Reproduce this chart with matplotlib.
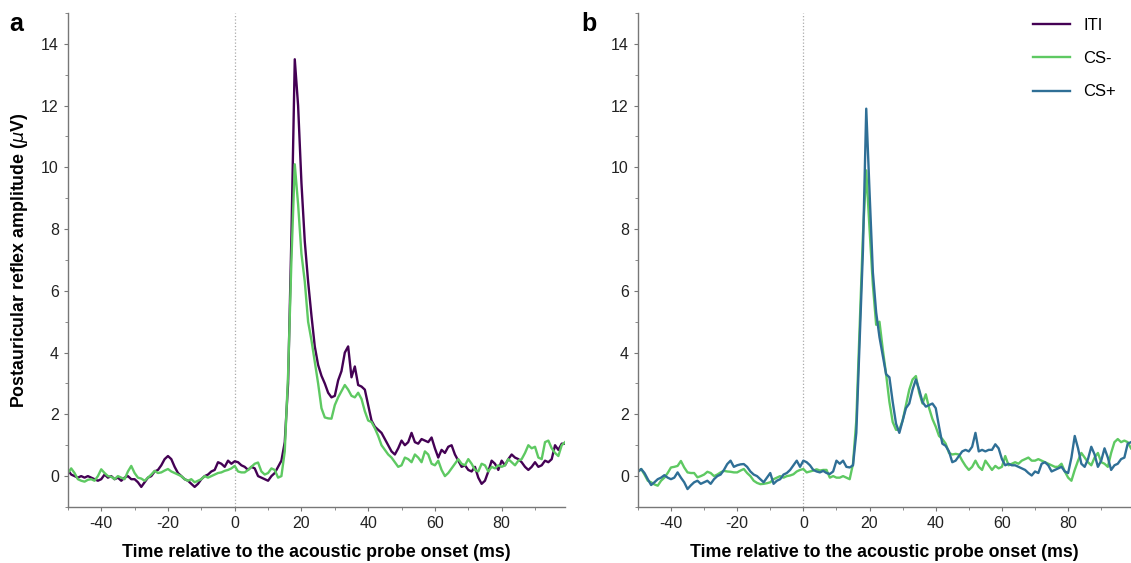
import numpy as np
import matplotlib
matplotlib.use('Agg')
import matplotlib.pyplot as plt
from matplotlib.ticker import MultipleLocator

plt.rcParams['font.family'] = ['Liberation Sans', 'DejaVu Sans']
plt.rcParams['axes.unicode_minus'] = False

# ==== time axis (ms), 1 ms steps
t = np.arange(-50, 100)

# ==== panel a
a_iti = [
    0.2, 0.05, 0.0, -0.05, 0.0, -0.05, 0.0, -0.05, -0.1, -0.15,
    -0.1, 0.05, -0.05, 0.0, -0.1, -0.05, -0.15, -0.05, 0.0, -0.1,
    -0.1, -0.2, -0.35, -0.2, -0.05, 0.0, 0.15, 0.2, 0.35, 0.55,
    0.65, 0.55, 0.3, 0.1, 0.0, -0.1, -0.15, -0.25, -0.35, -0.25,
    -0.1, 0.0, 0.05, 0.15, 0.2, 0.45, 0.4, 0.3, 0.5, 0.4,
    0.48, 0.45, 0.35, 0.3, 0.2, 0.3, 0.25, 0.0, -0.05, -0.1,
    -0.15, 0.0, 0.1, 0.3, 0.5, 1.1, 3.0, 7.8, 13.5, 12.0,
    9.5, 7.6, 6.3, 5.2, 4.2, 3.6, 3.25, 3.0, 2.7, 2.55,
    2.6, 3.1, 3.4, 4.0, 4.2, 3.2, 3.55, 2.95, 2.9, 2.8,
    2.3, 1.8, 1.6, 1.5, 1.4, 1.2, 1.0, 0.8, 0.7, 0.9,
    1.15, 1.0, 1.1, 1.4, 1.1, 1.05, 1.2, 1.15, 1.1, 1.25,
    0.9, 0.6, 0.85, 0.75, 0.95, 1.0, 0.7, 0.5, 0.3, 0.35,
    0.2, 0.15, 0.3, -0.05, -0.25, -0.15, 0.15, 0.5, 0.4, 0.2,
    0.5, 0.35, 0.55, 0.7, 0.6, 0.55, 0.45, 0.3, 0.2, 0.3,
    0.45, 0.3, 0.35, 0.5, 0.45, 0.55, 1.0, 0.85, 1.05, 1.05,
]
a_csm = [
    0.1, 0.25, 0.1, -0.1, -0.15, -0.18, -0.12, -0.1, -0.15, 0.0,
    0.22, 0.1, 0.0, -0.02, -0.1, 0.0, -0.05, -0.1, 0.15, 0.33,
    0.1, -0.05, -0.08, -0.15, -0.05, 0.05, 0.17, 0.1, 0.12, 0.18,
    0.23, 0.15, 0.1, 0.05, 0.0, -0.1, -0.15, -0.1, -0.2, -0.15,
    -0.1, 0.0, -0.05, 0.0, 0.05, 0.1, 0.12, 0.17, 0.2, 0.25,
    0.33, 0.15, 0.12, 0.12, 0.2, 0.3, 0.4, 0.44, 0.15, 0.05,
    0.1, 0.25, 0.2, -0.05, 0.0, 0.8, 3.3, 7.0, 10.1, 8.8,
    7.2, 6.3, 5.0, 4.4, 3.7, 3.0, 2.2, 1.9, 1.87, 1.86,
    2.3, 2.55, 2.75, 2.95, 2.8, 2.6, 2.55, 2.7, 2.5, 2.1,
    1.8, 1.75, 1.55, 1.3, 1.0, 0.85, 0.7, 0.6, 0.45, 0.3,
    0.35, 0.6, 0.55, 0.45, 0.7, 0.6, 0.45, 0.8, 0.7, 0.4,
    0.35, 0.5, 0.2, 0.0, 0.1, 0.25, 0.4, 0.55, 0.4, 0.35,
    0.55, 0.4, 0.2, 0.15, 0.4, 0.35, 0.15, 0.3, 0.25, 0.35,
    0.3, 0.35, 0.55, 0.45, 0.35, 0.5, 0.55, 0.75, 1.0, 0.9,
    0.95, 0.6, 0.55, 1.1, 1.15, 0.9, 0.75, 0.65, 1.0, 1.1,
]

# ==== panel b
b_csm = [
    0.14, 0.23, 0.05, -0.15, -0.2, -0.27, -0.31, -0.15, -0.05, 0.1,
    0.28, 0.3, 0.33, 0.49, 0.28, 0.12, 0.1, 0.1, -0.04, 0.0,
    0.05, 0.14, 0.1, 0.0, 0.05, 0.12, 0.17, 0.15, 0.14, 0.12,
    0.12, 0.18, 0.23, 0.1, 0.0, -0.15, -0.22, -0.26, -0.25, -0.23,
    -0.2, -0.1, -0.05, 0.0, -0.05, 0.0, 0.02, 0.06, 0.15, 0.2,
    0.23, 0.12, 0.15, 0.18, 0.22, 0.18, 0.2, 0.2, -0.05, 0.0,
    -0.05, -0.05, 0.0, -0.05, -0.1, 0.4, 1.8, 4.8, 7.8, 9.9,
    8.0, 6.2, 4.9, 5.0, 4.1, 3.3, 2.4, 1.75, 1.5, 1.5,
    1.8, 2.3, 2.8, 3.13, 3.24, 2.7, 2.35, 2.65, 2.2, 1.85,
    1.6, 1.3, 1.2, 1.05, 0.75, 0.7, 0.72, 0.7, 0.5, 0.33,
    0.2, 0.3, 0.5, 0.3, 0.2, 0.5, 0.35, 0.2, 0.33, 0.25,
    0.3, 0.65, 0.35, 0.4, 0.45, 0.4, 0.5, 0.55, 0.6, 0.5,
    0.5, 0.55, 0.5, 0.45, 0.4, 0.35, 0.3, 0.3, 0.4, 0.15,
    -0.05, -0.15, 0.2, 0.5, 0.75, 0.6, 0.45, 0.35, 0.6, 0.75,
    0.45, 0.4, 0.3, 0.75, 1.1, 1.2, 1.1, 1.15, 1.1, 0.9,
]
b_csp = [
    0.14, 0.23, 0.1, -0.1, -0.29, -0.2, -0.1, -0.05, 0.03, -0.05,
    -0.1, -0.05, 0.12, -0.05, -0.2, -0.42, -0.3, -0.2, -0.15, -0.25,
    -0.2, -0.15, -0.25, -0.1, 0.0, 0.05, 0.2, 0.39, 0.5, 0.3,
    0.35, 0.38, 0.39, 0.3, 0.15, 0.05, 0.0, -0.1, -0.2, -0.05,
    0.1, -0.25, -0.15, -0.1, 0.05, 0.1, 0.2, 0.35, 0.5, 0.3,
    0.5, 0.45, 0.35, 0.2, 0.15, 0.12, 0.17, 0.1, 0.07, 0.15,
    0.5, 0.4, 0.5, 0.3, 0.28, 0.35, 1.4, 4.4, 7.3, 11.9,
    9.2, 6.6, 5.3, 4.5, 3.9, 3.3, 3.2, 2.4, 1.7, 1.4,
    1.8, 2.2, 2.35, 2.8, 3.13, 2.8, 2.4, 2.25, 2.3, 2.35,
    2.2, 1.6, 1.05, 0.98, 0.8, 0.45, 0.5, 0.65, 0.8, 0.85,
    0.8, 0.95, 1.4, 0.8, 0.85, 0.8, 0.85, 0.85, 1.03, 0.9,
    0.55, 0.35, 0.4, 0.35, 0.35, 0.3, 0.25, 0.2, 0.1, 0.02,
    0.15, 0.1, 0.4, 0.45, 0.35, 0.15, 0.2, 0.25, 0.3, 0.15,
    0.1, 0.6, 1.3, 0.9, 0.4, 0.3, 0.55, 0.95, 0.7, 0.3,
    0.5, 0.9, 0.6, 0.2, 0.35, 0.4, 0.55, 0.6, 1.05, 1.1,
]

COL_ITI = '#440154'
COL_CSM = '#5ec962'
COL_CSP = '#2f6f96'

fig = plt.figure(figsize=(11.31, 5.63), dpi=100)
ax_a = fig.add_axes([0.060, 0.0995, 0.4396, 0.8775])
ax_b = fig.add_axes([0.564, 0.0995, 0.436, 0.8775])

ax_a.plot(t, a_iti, color=COL_ITI, lw=1.7, label='ITI')
ax_a.plot(t, a_csm, color=COL_CSM, lw=1.7, label='CS-')
ax_b.plot(t, b_csm, color=COL_CSM, lw=1.7)
ax_b.plot(t, b_csp, color=COL_CSP, lw=1.7, label='CS+')

for ax in (ax_a, ax_b):
    ax.axvline(0, color='#aaaaaa', lw=0.9, ls=':', zorder=0)
    ax.set_xlim(-50, 99)
    ax.set_ylim(-1, 15)
    ax.xaxis.set_major_locator(MultipleLocator(20))
    ax.xaxis.set_minor_locator(MultipleLocator(10))
    ax.yaxis.set_major_locator(MultipleLocator(2))
    ax.yaxis.set_minor_locator(MultipleLocator(1))
    ax.spines['top'].set_visible(False)
    ax.spines['right'].set_visible(False)
    for s in ('left', 'bottom'):
        ax.spines[s].set_color('#777777')
        ax.spines[s].set_linewidth(1.0)
    ax.tick_params(which='both', direction='out', color='#777777',
                   labelsize=11.5, labelcolor='#222222')
    ax.tick_params(which='major', length=3)
    ax.tick_params(which='minor', length=2)
    ax.set_xlabel('Time relative to the acoustic probe onset (ms)',
                  fontsize=12.8, fontweight='bold', labelpad=9)

ax_a.set_ylabel(r'Postauricular reflex amplitude ($\mu$V)',
                fontsize=12.8, fontweight='bold', labelpad=8)

fig.text(0.008, 0.945, 'a', fontsize=18, fontweight='bold')
fig.text(0.514, 0.945, 'b', fontsize=18, fontweight='bold')

handles = [ax_a.lines[0], ax_a.lines[1], ax_b.lines[1]]
fig.legend(handles, ['ITI', 'CS-', 'CS+'], loc='upper right',
           bbox_to_anchor=(1.0, 0.995), frameon=False, fontsize=12,
           handlelength=2.2, labelspacing=1.1, handletextpad=0.8)

fig.savefig('out.png', dpi=100)
